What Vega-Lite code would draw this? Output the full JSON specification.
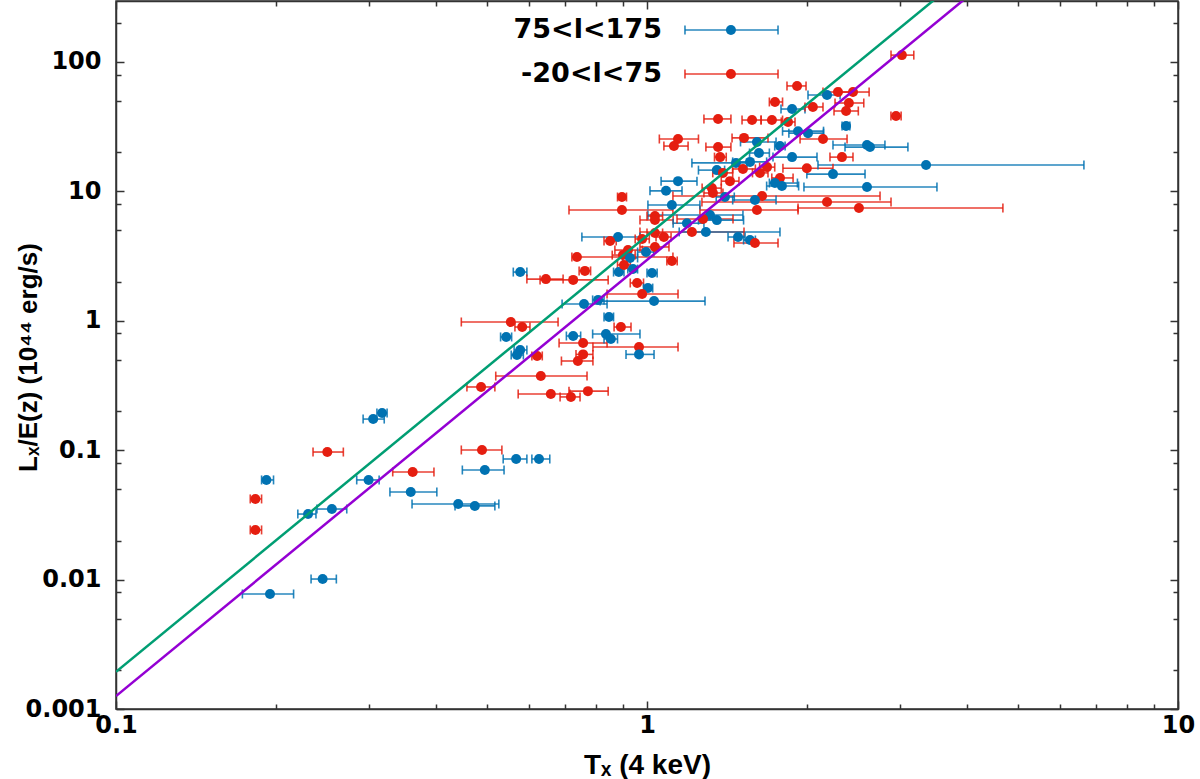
{
  "$schema": "https://vega.github.io/schema/vega-lite/v6.json",
  "width": 1062,
  "height": 708,
  "autosize": {"type": "none"},
  "padding": {"left": 116, "top": 1, "right": 22, "bottom": 70},
  "config": {
    "font": "DejaVu Sans",
    "view": {"stroke": "#333333", "strokeWidth": 1.5},
    "axis": {
      "grid": false,
      "labelFont": "DejaVu Sans",
      "labelFontWeight": "bold",
      "labelFontSize": 24,
      "labelColor": "#000000",
      "labelOverlap": false,
      "labelFlush": false,
      "titleFont": "Liberation Sans",
      "titleFontWeight": "bold",
      "titleFontSize": 27,
      "titleColor": "#000000",
      "domainColor": "#333333",
      "domainWidth": 1.5,
      "tickColor": "#333333",
      "tickWidth": 1.5
    }
  },
  "datasets": {
    "pts": [
      {"g": "b", "T": 0.195, "L": 0.00774, "lo": 0.173, "hi": 0.216},
      {"g": "b", "T": 0.245, "L": 0.0101, "lo": 0.233, "hi": 0.26},
      {"g": "r", "T": 0.183, "L": 0.0242, "lo": 0.179, "hi": 0.188},
      {"g": "r", "T": 0.183, "L": 0.042, "lo": 0.179, "hi": 0.188},
      {"g": "b", "T": 0.192, "L": 0.0589, "lo": 0.188, "hi": 0.198},
      {"g": "b", "T": 0.23, "L": 0.0321, "lo": 0.22, "hi": 0.238},
      {"g": "b", "T": 0.255, "L": 0.0351, "lo": 0.239, "hi": 0.272},
      {"g": "b", "T": 0.299, "L": 0.0589, "lo": 0.284, "hi": 0.313},
      {"g": "r", "T": 0.25, "L": 0.0968, "lo": 0.235, "hi": 0.268},
      {"g": "b", "T": 0.305, "L": 0.174, "lo": 0.292, "hi": 0.32},
      {"g": "b", "T": 0.317, "L": 0.194, "lo": 0.31, "hi": 0.324},
      {"g": "r", "T": 0.362, "L": 0.0679, "lo": 0.332, "hi": 0.397},
      {"g": "b", "T": 0.359, "L": 0.0475, "lo": 0.328, "hi": 0.402},
      {"g": "r", "T": 0.489, "L": 0.1004, "lo": 0.447, "hi": 0.533},
      {"g": "b", "T": 0.495, "L": 0.0703, "lo": 0.449, "hi": 0.538},
      {"g": "b", "T": 0.567, "L": 0.0855, "lo": 0.536, "hi": 0.594},
      {"g": "b", "T": 0.626, "L": 0.0855, "lo": 0.607, "hi": 0.656},
      {"g": "b", "T": 0.441, "L": 0.0384, "lo": 0.361, "hi": 0.526},
      {"g": "b", "T": 0.474, "L": 0.0371, "lo": 0.435, "hi": 0.517},
      {"g": "b", "T": 0.577, "L": 2.38, "lo": 0.56, "hi": 0.594},
      {"g": "r", "T": 0.645, "L": 2.1, "lo": 0.594, "hi": 0.695},
      {"g": "r", "T": 0.726, "L": 2.07, "lo": 0.629, "hi": 0.845},
      {"g": "r", "T": 0.764, "L": 2.43, "lo": 0.745, "hi": 0.783},
      {"g": "r", "T": 0.738, "L": 3.11, "lo": 0.722, "hi": 1.119},
      {"g": "r", "T": 1.114, "L": 2.9, "lo": 1.09, "hi": 1.14},
      {"g": "b", "T": 0.885, "L": 2.38, "lo": 0.865, "hi": 0.905},
      {"g": "b", "T": 0.941, "L": 2.51, "lo": 0.92, "hi": 0.96},
      {"g": "b", "T": 1.022, "L": 2.34, "lo": 1.0, "hi": 1.045},
      {"g": "r", "T": 0.958, "L": 1.96, "lo": 0.93, "hi": 0.985},
      {"g": "b", "T": 1.004, "L": 1.79, "lo": 0.985, "hi": 1.025},
      {"g": "r", "T": 0.979, "L": 1.61, "lo": 0.841, "hi": 1.144},
      {"g": "b", "T": 0.761, "L": 1.35, "lo": 0.692, "hi": 0.841},
      {"g": "b", "T": 1.031, "L": 1.42, "lo": 0.816, "hi": 1.286},
      {"g": "b", "T": 0.809, "L": 1.45, "lo": 0.79, "hi": 0.83},
      {"g": "b", "T": 0.848, "L": 1.07, "lo": 0.83, "hi": 0.865},
      {"g": "r", "T": 0.554, "L": 0.979, "lo": 0.447, "hi": 0.68},
      {"g": "r", "T": 0.582, "L": 0.895, "lo": 0.564, "hi": 0.602},
      {"g": "b", "T": 0.543, "L": 0.75, "lo": 0.53, "hi": 0.556},
      {"g": "b", "T": 0.577, "L": 0.595, "lo": 0.562, "hi": 0.594},
      {"g": "b", "T": 0.569, "L": 0.544, "lo": 0.555, "hi": 0.585},
      {"g": "r", "T": 0.621, "L": 0.535, "lo": 0.607, "hi": 0.635},
      {"g": "b", "T": 0.726, "L": 0.763, "lo": 0.705, "hi": 0.75},
      {"g": "b", "T": 0.837, "L": 0.791, "lo": 0.79, "hi": 0.97},
      {"g": "b", "T": 0.855, "L": 0.723, "lo": 0.83, "hi": 0.88},
      {"g": "r", "T": 0.893, "L": 0.895, "lo": 0.867, "hi": 0.933},
      {"g": "r", "T": 0.758, "L": 0.674, "lo": 0.683, "hi": 0.841},
      {"g": "r", "T": 0.966, "L": 0.628, "lo": 0.791, "hi": 1.144},
      {"g": "b", "T": 0.966, "L": 0.55, "lo": 0.913, "hi": 1.031},
      {"g": "r", "T": 0.758, "L": 0.55, "lo": 0.735, "hi": 0.791},
      {"g": "r", "T": 0.741, "L": 0.489, "lo": 0.69, "hi": 0.791},
      {"g": "r", "T": 0.631, "L": 0.374, "lo": 0.519, "hi": 0.771},
      {"g": "r", "T": 0.487, "L": 0.308, "lo": 0.458, "hi": 0.517},
      {"g": "r", "T": 0.659, "L": 0.272, "lo": 0.572, "hi": 0.716},
      {"g": "r", "T": 0.719, "L": 0.258, "lo": 0.686, "hi": 0.748},
      {"g": "r", "T": 0.774, "L": 0.286, "lo": 0.713, "hi": 0.845},
      {"g": "r", "T": 1.124, "L": 22.4, "lo": 1.076, "hi": 1.195},
      {"g": "r", "T": 1.361, "L": 22.0, "lo": 1.291, "hi": 1.439},
      {"g": "r", "T": 1.373, "L": 18.4, "lo": 1.34, "hi": 1.41},
      {"g": "b", "T": 1.625, "L": 19.8, "lo": 1.56, "hi": 1.7},
      {"g": "b", "T": 1.78, "L": 22.4, "lo": 1.74, "hi": 1.82},
      {"g": "b", "T": 1.876, "L": 18.4, "lo": 1.727, "hi": 2.09},
      {"g": "b", "T": 1.471, "L": 16.6, "lo": 1.215, "hi": 1.543},
      {"g": "r", "T": 1.516, "L": 14.9, "lo": 1.45, "hi": 1.6},
      {"g": "r", "T": 1.632, "L": 13.9, "lo": 1.58, "hi": 1.69},
      {"g": "r", "T": 1.683, "L": 15.4, "lo": 1.63, "hi": 1.74},
      {"g": "r", "T": 1.78, "L": 12.7, "lo": 1.718, "hi": 1.884},
      {"g": "r", "T": 2.0, "L": 15.1, "lo": 1.803, "hi": 2.24},
      {"g": "b", "T": 1.741, "L": 11.6, "lo": 1.7, "hi": 1.92},
      {"g": "b", "T": 1.795, "L": 11.0, "lo": 1.68, "hi": 1.93},
      {"g": "b", "T": 1.144, "L": 12.0, "lo": 1.063, "hi": 1.242},
      {"g": "b", "T": 1.086, "L": 10.1, "lo": 1.013, "hi": 1.164},
      {"g": "b", "T": 1.354, "L": 14.6, "lo": 1.25, "hi": 1.4},
      {"g": "r", "T": 1.39, "L": 13.9, "lo": 1.33, "hi": 1.45},
      {"g": "r", "T": 1.433, "L": 12.0, "lo": 1.38, "hi": 1.49},
      {"g": "r", "T": 1.325, "L": 10.6, "lo": 1.27, "hi": 1.38},
      {"g": "r", "T": 1.331, "L": 9.72, "lo": 1.28, "hi": 1.39},
      {"g": "r", "T": 1.647, "L": 9.21, "lo": 1.119, "hi": 2.747},
      {"g": "r", "T": 2.183, "L": 8.28, "lo": 1.269, "hi": 2.881},
      {"g": "r", "T": 2.507, "L": 7.44, "lo": 1.925, "hi": 4.68},
      {"g": "r", "T": 1.611, "L": 7.18, "lo": 1.258, "hi": 1.925},
      {"g": "r", "T": 0.897, "L": 7.18, "lo": 0.713, "hi": 1.119},
      {"g": "r", "T": 0.897, "L": 9.05, "lo": 0.88, "hi": 0.915},
      {"g": "b", "T": 3.354, "L": 16.0, "lo": 2.099, "hi": 6.65},
      {"g": "b", "T": 2.24, "L": 13.6, "lo": 2.0, "hi": 2.574},
      {"g": "b", "T": 2.596, "L": 10.8, "lo": 1.975, "hi": 3.516},
      {"g": "r", "T": 2.329, "L": 18.4, "lo": 2.211, "hi": 2.443},
      {"g": "b", "T": 1.402, "L": 9.05, "lo": 1.35, "hi": 1.46},
      {"g": "b", "T": 1.597, "L": 8.58, "lo": 1.45, "hi": 1.75},
      {"g": "b", "T": 1.114, "L": 7.85, "lo": 1.004, "hi": 1.258},
      {"g": "b", "T": 1.314, "L": 6.57, "lo": 1.004, "hi": 1.516},
      {"g": "r", "T": 1.035, "L": 6.45, "lo": 1.0, "hi": 1.07},
      {"g": "r", "T": 1.035, "L": 6.01, "lo": 0.97, "hi": 1.12},
      {"g": "r", "T": 1.275, "L": 6.12, "lo": 1.139, "hi": 1.452},
      {"g": "b", "T": 1.354, "L": 6.0, "lo": 1.25, "hi": 1.52},
      {"g": "b", "T": 1.189, "L": 5.68, "lo": 1.12, "hi": 1.28},
      {"g": "r", "T": 1.215, "L": 4.86, "lo": 0.97, "hi": 1.523},
      {"g": "b", "T": 1.291, "L": 4.86, "lo": 1.15, "hi": 1.78},
      {"g": "b", "T": 1.484, "L": 4.44, "lo": 1.421, "hi": 1.53},
      {"g": "b", "T": 1.563, "L": 4.21, "lo": 1.52, "hi": 1.6},
      {"g": "r", "T": 1.597, "L": 3.99, "lo": 1.458, "hi": 1.765},
      {"g": "b", "T": 0.882, "L": 4.44, "lo": 0.754, "hi": 0.97},
      {"g": "r", "T": 0.852, "L": 4.14, "lo": 0.83, "hi": 0.875},
      {"g": "r", "T": 0.979, "L": 4.29, "lo": 0.95, "hi": 1.01},
      {"g": "r", "T": 1.035, "L": 4.77, "lo": 1.0, "hi": 1.07},
      {"g": "r", "T": 1.076, "L": 4.44, "lo": 1.04, "hi": 1.11},
      {"g": "r", "T": 0.921, "L": 3.52, "lo": 0.87, "hi": 0.98},
      {"g": "r", "T": 0.901, "L": 3.22, "lo": 0.86, "hi": 0.95},
      {"g": "r", "T": 1.035, "L": 3.72, "lo": 0.97, "hi": 1.1},
      {"g": "b", "T": 0.929, "L": 3.06, "lo": 0.9, "hi": 0.96},
      {"g": "b", "T": 0.996, "L": 3.4, "lo": 0.96, "hi": 1.03},
      {"g": "r", "T": 0.905, "L": 2.7, "lo": 0.88, "hi": 0.93},
      {"g": "r", "T": 1.917, "L": 65.3, "lo": 1.835, "hi": 1.993},
      {"g": "b", "T": 2.183, "L": 55.6, "lo": 2.01, "hi": 2.31},
      {"g": "r", "T": 2.289, "L": 58.6, "lo": 2.145, "hi": 2.443},
      {"g": "r", "T": 2.443, "L": 58.6, "lo": 2.31, "hi": 2.62},
      {"g": "r", "T": 2.4, "L": 48.2, "lo": 2.26, "hi": 2.56},
      {"g": "r", "T": 2.371, "L": 41.8, "lo": 2.25, "hi": 2.5},
      {"g": "r", "T": 1.742, "L": 49.1, "lo": 1.7, "hi": 1.8},
      {"g": "b", "T": 1.876, "L": 43.3, "lo": 1.788, "hi": 1.984},
      {"g": "r", "T": 2.053, "L": 44.9, "lo": 1.984, "hi": 2.145},
      {"g": "r", "T": 2.944, "L": 38.3, "lo": 2.88, "hi": 3.01},
      {"g": "r", "T": 3.02, "L": 113, "lo": 2.881, "hi": 3.18},
      {"g": "r", "T": 1.361, "L": 36.3, "lo": 1.28, "hi": 1.439},
      {"g": "r", "T": 1.577, "L": 35.6, "lo": 1.51, "hi": 1.64},
      {"g": "r", "T": 1.719, "L": 35.6, "lo": 1.64, "hi": 1.8},
      {"g": "r", "T": 1.843, "L": 34.4, "lo": 1.79, "hi": 1.9},
      {"g": "b", "T": 2.371, "L": 32.0, "lo": 2.33, "hi": 2.41},
      {"g": "b", "T": 1.925, "L": 29.2, "lo": 1.8, "hi": 2.15},
      {"g": "b", "T": 2.01, "L": 28.2, "lo": 1.85, "hi": 2.15},
      {"g": "r", "T": 1.523, "L": 25.9, "lo": 1.446, "hi": 1.69},
      {"g": "r", "T": 2.145, "L": 25.4, "lo": 1.942, "hi": 2.381},
      {"g": "r", "T": 1.144, "L": 25.4, "lo": 1.055, "hi": 1.25},
      {"g": "b", "T": 1.611, "L": 24.1, "lo": 1.5, "hi": 1.75},
      {"g": "b", "T": 2.596, "L": 22.8, "lo": 2.24, "hi": 2.806},
      {"g": "b", "T": 2.63, "L": 22.0, "lo": 2.36, "hi": 3.1},
      {"g": "b", "T": 1.563, "L": 16.9, "lo": 1.45, "hi": 1.68}
    ],
    "leg": [
      {"g": "b", "label": "75<l<175", "T": 1.439, "L": 176.6, "lo": 1.179, "hi": 1.765, "Ttext": 1.067},
      {"g": "r", "label": "-20<l<75", "T": 1.439, "L": 80.8, "lo": 1.179, "hi": 1.765, "Ttext": 1.067}
    ],
    "fits": [
      {"fit": "green", "T": 0.1, "L": 0.00194},
      {"fit": "green", "T": 4.0, "L": 486},
      {"fit": "purple", "T": 0.1, "L": 0.00126},
      {"fit": "purple", "T": 4.5, "L": 469}
    ]
  },
  "layer": [
    {
      "data": {"name": "pts"},
      "mark": {"type": "rule", "strokeWidth": 1.6, "opacity": 0.85},
      "encoding": {
        "x": {
          "field": "lo", "type": "quantitative",
          "scale": {"type": "log", "domain": [0.1, 10], "nice": false},
          "axis": {
            "orient": "bottom",
            "values": [0.1, 0.2, 0.3, 0.4, 0.5, 0.6, 0.7, 0.8, 0.9, 1, 2, 3, 4, 5, 6, 7, 8, 9, 10],
            "format": "~g",
            "labelExpr": "indexof([0.1, 1, 10], datum.value) >= 0 ? datum.label : ''",
            "tickSize": {"condition": {"test": "indexof([0.1, 1, 10], datum.value) >= 0", "value": -8}, "value": -5},
            "labelPadding": 12,
            "title": "Tₓ (4 keV)",
            "titleFontSize": 28,
            "titlePadding": 11
          }
        },
        "x2": {"field": "hi"},
        "y": {
          "field": "L", "type": "quantitative",
          "scale": {"type": "log", "domain": [0.001, 296], "nice": false},
          "axis": {
            "orient": "left",
            "values": [0.001, 0.002, 0.005, 0.008, 0.01, 0.02, 0.05, 0.08, 0.1, 0.2, 0.5, 0.8, 1, 2, 5, 8, 10, 20, 50, 80, 100, 200],
            "format": "~g",
            "labelExpr": "indexof([0.001, 0.01, 0.1, 1, 10, 100], datum.value) >= 0 ? datum.label : ''",
            "tickSize": {"condition": {"test": "indexof([0.001, 0.01, 0.1, 1, 10, 100], datum.value) >= 0", "value": -8}, "value": -5},
            "labelPadding": 23,
            "title": "Lₓ/E(z) (10⁴⁴ erg/s)",
            "titleFontSize": 26,
            "titleX": -88,
            "titleY": 356,
            "titleBaseline": "middle"
          }
        },
        "color": {"field": "g", "type": "nominal", "scale": {"domain": ["b", "r"], "range": ["#0072b2", "#e51e10"]}, "legend": null}
      }
    },
    {
      "data": {"name": "pts"},
      "transform": [{"fold": ["lo", "hi"], "as": ["end", "Tend"]}],
      "mark": {"type": "point", "shape": "M0,-1L0,1", "filled": false, "size": 81, "strokeWidth": 1.6, "opacity": 0.85},
      "encoding": {
        "x": {"field": "Tend", "type": "quantitative", "axis": null},
        "y": {"field": "L", "type": "quantitative", "axis": null},
        "color": {"field": "g", "type": "nominal", "legend": null}
      }
    },
    {
      "data": {"name": "pts"},
      "mark": {"type": "circle", "size": 100, "opacity": 1},
      "encoding": {
        "x": {"field": "T", "type": "quantitative", "axis": null},
        "y": {"field": "L", "type": "quantitative", "axis": null},
        "color": {"field": "g", "type": "nominal", "legend": null}
      }
    },
    {
      "data": {"name": "leg"},
      "mark": {"type": "rule", "strokeWidth": 1.6, "opacity": 0.85},
      "encoding": {
        "x": {"field": "lo", "type": "quantitative", "axis": null},
        "x2": {"field": "hi"},
        "y": {"field": "L", "type": "quantitative", "axis": null},
        "color": {"field": "g", "type": "nominal", "legend": null}
      }
    },
    {
      "data": {"name": "leg"},
      "transform": [{"fold": ["lo", "hi"], "as": ["end", "Tend"]}],
      "mark": {"type": "point", "shape": "M0,-1L0,1", "filled": false, "size": 81, "strokeWidth": 1.6, "opacity": 0.85},
      "encoding": {
        "x": {"field": "Tend", "type": "quantitative", "axis": null},
        "y": {"field": "L", "type": "quantitative", "axis": null},
        "color": {"field": "g", "type": "nominal", "legend": null}
      }
    },
    {
      "data": {"name": "leg"},
      "mark": {"type": "circle", "size": 100, "opacity": 1},
      "encoding": {
        "x": {"field": "T", "type": "quantitative", "axis": null},
        "y": {"field": "L", "type": "quantitative", "axis": null},
        "color": {"field": "g", "type": "nominal", "legend": null}
      }
    },
    {
      "data": {"name": "leg"},
      "mark": {"type": "text", "align": "right", "baseline": "middle", "font": "DejaVu Sans", "fontWeight": "bold", "fontSize": 27, "color": "#000000"},
      "encoding": {
        "x": {"field": "Ttext", "type": "quantitative", "axis": null},
        "y": {"field": "L", "type": "quantitative", "axis": null},
        "text": {"field": "label"}
      }
    },
    {
      "data": {"name": "fits"},
      "transform": [{"filter": "datum.fit == 'green'"}],
      "mark": {"type": "line", "color": "#009e73", "strokeWidth": 2.5, "clip": true},
      "encoding": {
        "x": {
          "field": "T", "type": "quantitative",
          "axis": {
            "orient": "top",
            "values": [0.1, 0.2, 0.3, 0.4, 0.5, 0.6, 0.7, 0.8, 0.9, 1, 2, 3, 4, 5, 6, 7, 8, 9, 10],
            "labels": false,
            "tickSize": {"condition": {"test": "indexof([0.1, 1, 10], datum.value) >= 0", "value": -8}, "value": -5},
            "title": null
          }
        },
        "y": {
          "field": "L", "type": "quantitative",
          "axis": {
            "orient": "right",
            "values": [0.001, 0.002, 0.005, 0.008, 0.01, 0.02, 0.05, 0.08, 0.1, 0.2, 0.5, 0.8, 1, 2, 5, 8, 10, 20, 50, 80, 100, 200],
            "labels": false,
            "tickSize": {"condition": {"test": "indexof([0.001, 0.01, 0.1, 1, 10, 100], datum.value) >= 0", "value": -8}, "value": -5},
            "title": null
          }
        }
      }
    },
    {
      "data": {"name": "fits"},
      "transform": [{"filter": "datum.fit == 'purple'"}],
      "mark": {"type": "line", "color": "#9400d3", "strokeWidth": 2.5, "clip": true},
      "encoding": {
        "x": {"field": "T", "type": "quantitative", "axis": null},
        "y": {"field": "L", "type": "quantitative", "axis": null}
      }
    }
  ],
  "resolve": {"axis": {"x": "independent", "y": "independent"}}
}
